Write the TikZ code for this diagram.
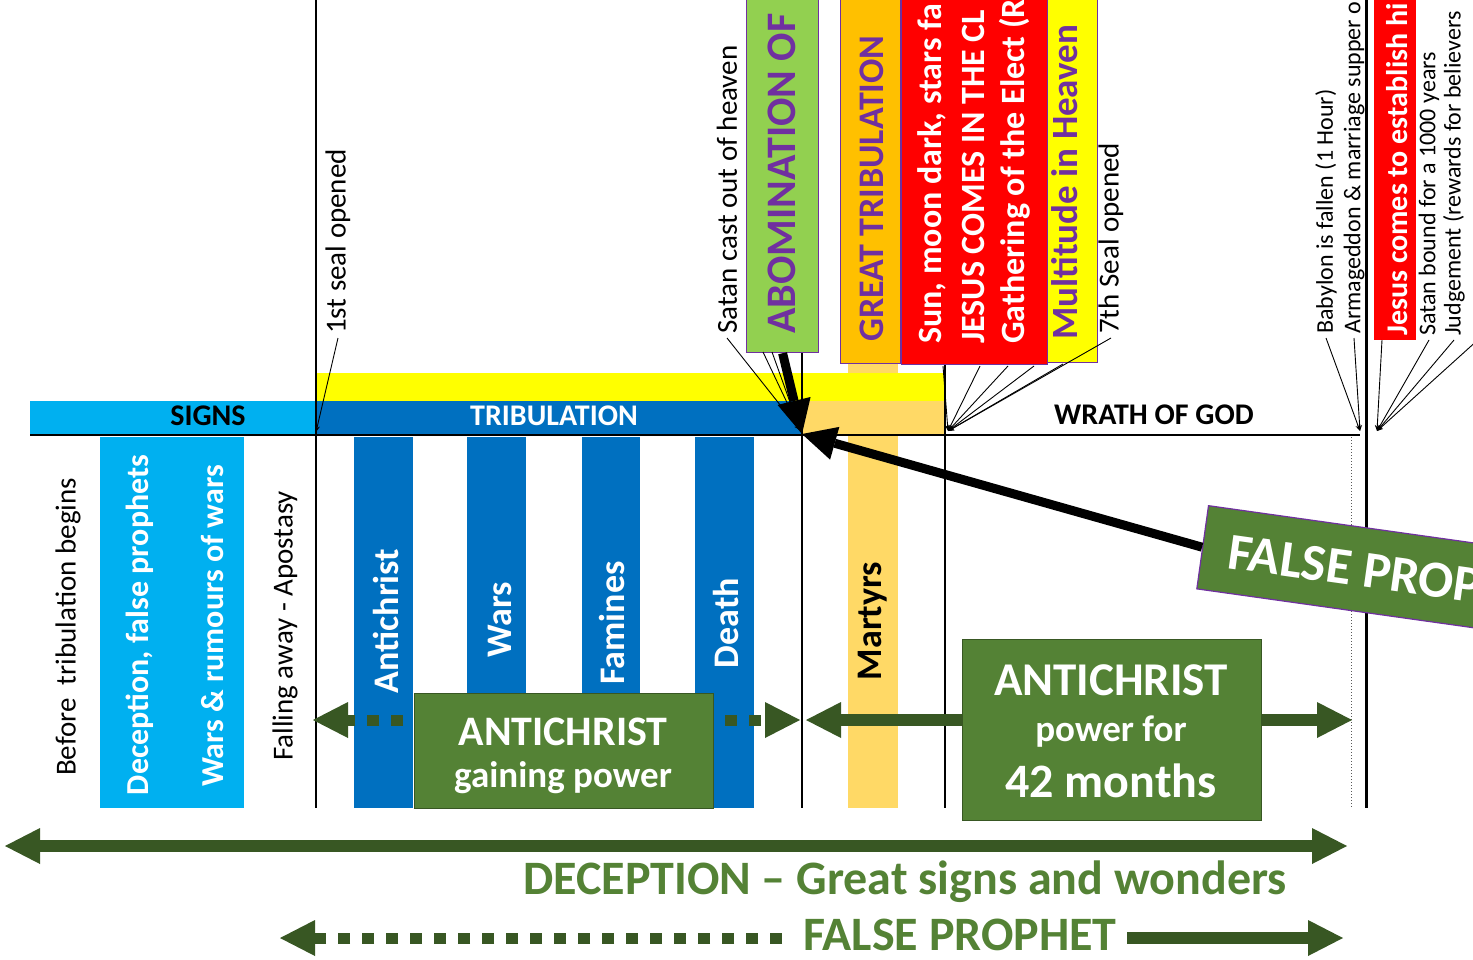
\documentclass[tikz,border=0pt]{standalone}
\usepackage{fontspec}
\setmainfont{Carlito}
\usetikzlibrary{arrows.meta}
\definecolor{lblue}{HTML}{00B0F0}
\definecolor{dblue}{HTML}{0070C0}
\definecolor{yel}{HTML}{FFFF00}
\definecolor{lorange}{HTML}{FFD966}
\definecolor{orng}{HTML}{FFC000}
\definecolor{purp}{HTML}{7030A0}
\definecolor{lgreen}{HTML}{92D050}
\definecolor{dgreen}{HTML}{385723}
\definecolor{mgreen}{HTML}{548235}
\definecolor{rred}{HTML}{FF0000}
\newcommand\sz[1]{\fontsize{#1}{#1}\selectfont}
\begin{document}
\begin{tikzpicture}[x=1pt,y=-1pt,
  >={Triangle[length=35pt,width=36pt,line width=0pt]},
  lbl/.style={rotate=90,anchor=west,inner xsep=4pt,inner ysep=0pt,font=\sz{29}},
  rlbl/.style={rotate=90,anchor=west,inner xsep=4pt,inner ysep=0pt,font=\sz{24}},
  vtxt/.style={rotate=90,anchor=west,inner sep=0pt},
  ctxt/.style={rotate=90,inner sep=0pt,font=\bfseries\sz{36}},
  leader/.style={line width=0.9pt,-{Stealth[length=6pt,width=5pt]}},
  bigarrow/.style={line width=9pt,-{Triangle[length=34pt,width=34pt,line width=0pt]}},
  greenbox/.style={draw=dgreen,line width=1.2pt,fill=mgreen,anchor=north west,inner sep=0pt},
  tbox/.style={draw=purp,line width=1.2pt,anchor=north west,inner sep=0pt},
  vline/.style={line width=2pt},
  gshaft/.style={dgreen,line width=12pt},
  gdots/.style={dgreen,line width=11pt,dash pattern=on 12pt off 12pt},
  wtxt/.style={text=white,font=\bfseries,inner sep=0pt,anchor=base}
]
\useasboundingbox (0,0) rectangle (1473,959);
\fill[white] (0,0) rectangle (1473,959);

% ---- bands and columns
\fill[lorange] (848,363) rectangle (898,808);
\fill[yel] (316,373) rectangle (944,401);
\fill[lblue] (30,401) rectangle (316,435);
\fill[dblue] (316,401) rectangle (802,435);
\fill[lorange] (802,401) rectangle (944,435);
\fill[lblue] (100,437) rectangle (244,808);
\foreach \a/\b in {354/413,467/526,582/640,695/754}
  \fill[dblue] (\a,437) rectangle (\b,808);

% ---- band labels
\node[font=\bfseries\sz{30},inner sep=0pt] (signs) at (208,416) {SIGNS};
\node[font=\bfseries\sz{30},text=white,inner sep=0pt] (trib) at (554,416) {TRIBULATION};
\node[font=\bfseries\sz{30},inner sep=0pt] (wrath) at (1154,415) {WRATH OF GOD};

% ---- main lines
\draw[line width=2.5pt] (30,435) -- (1360,435);
\draw[vline] (316,0) -- (316,808);
\draw[vline] (802,352) -- (802,808);
\draw[vline] (945,364) -- (945,808);
\draw[line width=3pt] (1366,0) -- (1366,808);
\draw[line width=1pt,gray!70!black,dotted] (1351,437) -- (1351,808);

% ---- column texts
\node[vtxt,font=\sz{29}] (before) at (68,776) {Before\ \ tribulation begins};
\node[ctxt,text=white,font=\bfseries\sz{32}] (decp) at (140,625) {Deception, false prophets};
\node[ctxt,text=white,font=\bfseries\sz{32}] (wrs) at (212,626) {Wars \& rumours of wars};
\node[vtxt,font=\sz{29}] (fall) at (285,761) {Falling away - Apostasy};
\node[ctxt,text=white] (ac) at (386,621) {Antichrist};
\node[ctxt,text=white] (wars) at (500,620) {Wars};
\node[ctxt,text=white] (fam) at (612,623) {Famines};
\node[ctxt,text=white] (death) at (726,623) {Death};
\node[ctxt] (mart) at (873,621) {Martyrs};

% ---- top boxes
\node[tbox,fill=lgreen,minimum width=72pt,minimum height=362pt] (abom) at (746,-10) {};
\node[tbox,fill=orng,minimum width=60pt,minimum height=373pt] (gtrib) at (840,-10) {};
\node[tbox,fill=rred,minimum width=146pt,minimum height=374pt] (redb) at (901,-10) {};
\node[tbox,fill=yel,minimum width=50pt,minimum height=372pt] (multi) at (1047,-10) {};
\node[tbox,draw=none,fill=rred,minimum width=42pt,minimum height=349pt] (jesus) at (1373,-10) {};

\node[vtxt,text=purp,font=\bfseries\sz{42}] (abomt) at (782,334) {ABOMINATION OF};
\node[vtxt,text=purp,font=\bfseries\sz{36}] (gtribt) at (872,342) {GREAT TRIBULATION};
\node[vtxt,text=white,font=\bfseries\sz{34}] (red1) at (932,344) {Sun, moon dark, stars fa};
\node[vtxt,text=white,font=\bfseries\sz{34}] (red2) at (973,344) {JESUS COMES IN THE CL};
\node[vtxt,text=white,font=\bfseries\sz{34}] (red3) at (1015,344) {Gathering of the Elect (R};
\node[vtxt,text=purp,font=\bfseries\sz{37}] (multit) at (1065,340) {Multitude in Heaven};
\node[vtxt,text=white,font=\bfseries\sz{30}] (jesust) at (1397,336) {Jesus comes to establish hi};

% ---- top labels
\node[lbl] (seal1) at (338,338) {1st seal opened};
\node[lbl] (satan) at (727,338) {Satan cast out of heaven};
\node[lbl] (seal7) at (1111,338) {7th Seal opened};
\node[rlbl] (babylon) at (1326,338) {Babylon is fallen (1 Hour)};
\node[rlbl] (armag) at (1354,338) {Armageddon \& marriage supper o};
\node[rlbl] (bound) at (1429,340) {Satan bound for a 1000 years};
\node[rlbl] (judge) at (1454,340) {Judgement (rewards for believers};

% ---- leader targets
\coordinate (t316) at (316,432);
\coordinate (t802) at (800,430);
\coordinate (t945) at (948,431);
\coordinate (tbab) at (1360,431);
\coordinate (tjes) at (1377,431);
\coordinate (hit) at (802,434);

\draw[leader] (seal1.west) -- (t316);
\draw[leader] (satan.west) -- (t802);
\coordinate (ab1) at (763,352);
\coordinate (ab2) at (772,352);
\draw[leader] (ab1) -- (t802);
\draw[leader] (ab2) -- (t802);
\foreach \x/\y [count=\i] in {943/366,980/366,1008/366,1034/366,1063/364}{
  \coordinate (f\i) at (\x,\y);
  \draw[leader] (f\i) -- (t945);
}
\draw[leader] (seal7.west) -- (t945);
\draw[leader] (babylon.west) -- (tbab);
\draw[leader] (armag.west) -- (tbab);
\coordinate (js) at (1382,340);
\coordinate (offr) at (1480,338);
\draw[leader] (js) -- (tjes);
\draw[leader] (bound.west) -- (tjes);
\draw[leader] (judge.west) -- (tjes);
\draw[leader] (offr) -- (tjes);

% ---- false prophet rotated box and big arrows
\node[tbox,fill=mgreen,rotate=-8,minimum width=400pt,minimum height=84pt] (fpbox) at (1208,505) {};
\node[wtxt,rotate=-8,anchor=base west,font=\bfseries\sz{52}] (fpboxt) at (1226,568) {FALSE PROP};
\draw[bigarrow] (abom.south) -- (hit);
\draw[bigarrow] (fpbox.west) -- (hit);

% ---- antichrist gaining power
\coordinate (gpL) at (414,720);
\coordinate (gpR) at (713,720);
\coordinate (tipL) at (313,720);
\coordinate (tipR) at (800,720);
\draw[gdots,dash phase=13pt,->] (gpL) -- (tipL);
\draw[gdots,dash phase=12pt,->] (gpR) -- (tipR);
\node[greenbox,minimum width=299pt,minimum height=115pt] (gp) at (414,693) {};
\node[wtxt,font=\bfseries\sz{42}] (gp1) at (563,745) {ANTICHRIST};
\node[wtxt,font=\bfseries\sz{37}] (gp2) at (563,787) {gaining power};

% ---- antichrist 42 months
\coordinate (acL) at (962,720);
\coordinate (acR) at (1261,720);
\coordinate (tipL2) at (806,720);
\coordinate (tipR2) at (1352,720);
\draw[gshaft,->] (acL) -- (tipL2);
\draw[gshaft,->] (acR) -- (tipR2);
\node[greenbox,minimum width=299pt,minimum height=181pt] (acb) at (962,639) {};
\node[wtxt,font=\bfseries\sz{47}] (acb1) at (1111,695) {ANTICHRIST};
\node[wtxt,font=\bfseries\sz{37}] (acb2) at (1111,741) {power for};
\node[wtxt,font=\bfseries\sz{48}] (acb3) at (1111,797) {42 months};

% ---- deception arrow
\coordinate (decL) at (5,846);
\coordinate (decR) at (1347,846);
\draw[gshaft,<->] (decL) -- (decR);
\node[text=mgreen,font=\bfseries\sz{48},inner sep=0pt,anchor=base] (dect) at (905,894) {DECEPTION -- Great signs and wonders};

% ---- false prophet arrow
\node[text=mgreen,font=\bfseries\sz{48},inner sep=0pt,anchor=base] (fpt) at (960,950) {FALSE PROPHET};
\coordinate (fpL) at (792,938);
\coordinate (fpR) at (1127,938);
\coordinate (fptipL) at (280,938);
\coordinate (fptipR) at (1343,938);
\draw[gdots,dash phase=14pt,->] (fpL) -- (fptipL);
\draw[gshaft,->] (fpR) -- (fptipR);
\end{tikzpicture}
\end{document}
